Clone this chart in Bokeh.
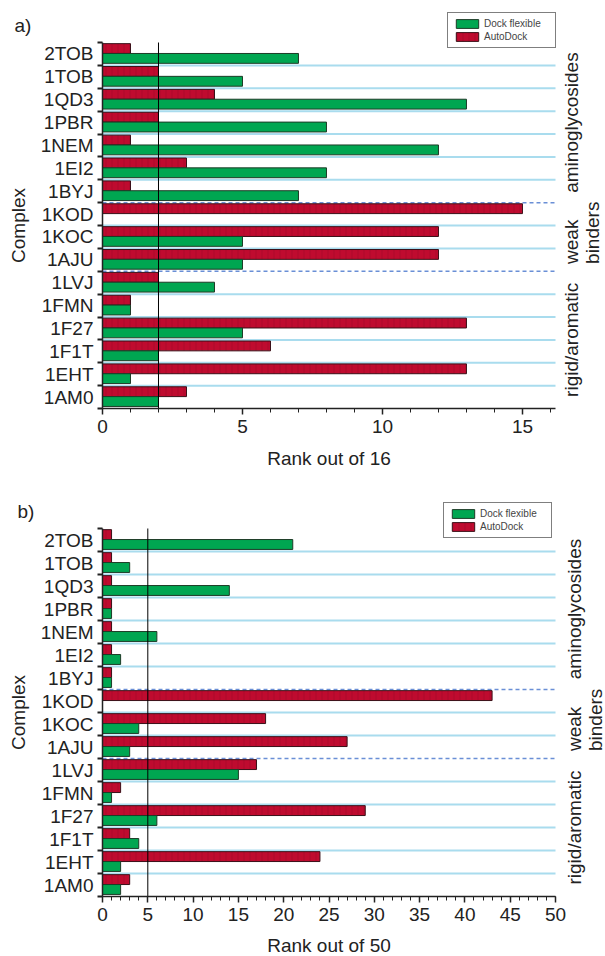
import math
from bokeh.plotting import figure
from bokeh.models import (Range1d, FixedTicker, SingleIntervalTicker, Label,
                          Legend, LegendItem)
from bokeh.layouts import column
from bokeh.embed import file_html
from bokeh.resources import INLINE

# ---------------- data ----------------
complexes = ["2TOB", "1TOB", "1QD3", "1PBR", "1NEM", "1EI2", "1BYJ",
             "1KOD", "1KOC", "1AJU",
             "1LVJ", "1FMN", "1F27", "1F1T", "1EHT", "1AM0"]
group_names = ["aminoglycosides", "weak\nbinders", "rigid/aromatic"]
group_sizes = [7, 3, 6]
series_names = ["Dock flexible", "AutoDock"]

dock_rank16 = [7, 5, 13, 8, 12, 8, 7, 0, 5, 5, 4, 1, 5, 2, 1, 2]
autodock_rank16 = [1, 2, 4, 2, 1, 3, 1, 15, 12, 12, 2, 1, 13, 6, 13, 3]
dock_rank50 = [21, 3, 14, 1, 6, 2, 1, 0, 4, 3, 15, 1, 6, 4, 2, 2]
autodock_rank50 = [1, 1, 1, 1, 1, 1, 1, 43, 18, 27, 17, 2, 29, 3, 24, 3]

x_labels = ["Rank out of 16", "Rank out of 50"]
x_max = [16.18, 50]
thresholds = [2, 5]
panel_tags = ["a)", "b)"]
y_title = "Complex"

GREEN = "#00a651"
RED = "#bf0b2f"
FONT = "Liberation Sans"
TXT = "#222222"
FIG_W = 605


def make_panel(tag, dock, auto, xmax, xlabel, thr, fig_h, plot_top, plot_bottom,
               legend_ll, tag_xy, group_dx, xlabel_standoff):
    n = len(complexes)
    plot_left, plot_right = 102, 555
    sx = (plot_right - plot_left) / xmax
    sy = (plot_bottom - plot_top) / n
    x0 = -plot_left / sx
    x1 = xmax + (FIG_W - plot_right) / sx
    y0 = -(fig_h - plot_bottom) / sy
    y1 = n + plot_top / sy

    p = figure(width=FIG_W, height=fig_h, x_range=Range1d(x0, x1),
               y_range=Range1d(y0, y1), output_backend="svg",
               toolbar_location=None, min_border_left=0, min_border_right=0,
               min_border_top=0, min_border_bottom=0)
    p.outline_line_color = None
    p.background_fill_color = "white"
    p.border_fill_color = "white"
    p.xgrid.visible = False
    p.ygrid.visible = False

    tops = [n - i for i in range(n)]
    centers = [t - 0.5 for t in tops]

    # row separators
    bounds = []
    acc = 0
    for s in group_sizes[:-1]:
        acc += s
        bounds.append(n - acc)
    solid = [k for k in range(1, n) if k not in bounds]
    p.segment(x0=[0] * len(solid), x1=[xmax] * len(solid), y0=solid, y1=solid,
              line_color="#a9dcee", line_width=2)
    p.segment(x0=[0] * len(bounds), x1=[xmax] * len(bounds), y0=bounds, y1=bounds,
              line_color="#6a8fd6", line_width=1.5, line_dash="4 3")

    # bars
    r = p.hbar(y=[c + 0.235 for c in centers], height=0.43, left=0, right=auto,
               fill_color=RED, line_color="#3a1018", line_width=1,
               hatch_pattern="vertical_line", hatch_color="#8c0722",
               hatch_alpha=0.35, hatch_scale=6, hatch_weight=1)
    g = p.hbar(y=[c - 0.195 for c in centers], height=0.43, left=0, right=dock,
               fill_color=GREEN, line_color="#1d3b27", line_width=1)

    # threshold line
    p.segment(x0=[thr], x1=[thr], y0=[0], y1=[n], line_color="black", line_width=1)

    # x axis
    xa = p.xaxis[0]
    xa.fixed_location = 0
    xa.bounds = (0, xmax)
    xa.ticker = SingleIntervalTicker(interval=5, num_minor_ticks=5)
    xa.axis_label = xlabel
    xa.axis_label_text_font = FONT
    xa.axis_label_text_font_size = "19px"
    xa.axis_label_text_font_style = "normal"
    xa.axis_label_standoff = xlabel_standoff
    xa.major_label_text_font = FONT
    xa.major_label_text_font_size = "19px"
    xa.major_label_standoff = 5
    xa.major_tick_out = 6
    xa.major_tick_in = 0
    xa.minor_tick_out = 4
    xa.minor_tick_in = 0
    xa.major_tick_line_width = 1.5
    xa.axis_line_width = 1.5
    xa.axis_line_color = TXT
    xa.major_tick_line_color = TXT
    xa.minor_tick_line_color = TXT
    xa.major_label_text_color = TXT
    xa.axis_label_text_color = TXT

    # y axis
    ya = p.yaxis[0]
    ya.fixed_location = 0
    ya.bounds = (0, n)
    ya.ticker = FixedTicker(ticks=centers, minor_ticks=list(range(0, n + 1)))
    ya.major_label_overrides = {c: name for c, name in zip(centers, complexes)}
    ya.axis_label = y_title
    ya.axis_label_text_font = FONT
    ya.axis_label_text_font_size = "19px"
    ya.axis_label_text_font_style = "normal"
    ya.axis_label_standoff = 9
    ya.major_label_text_font = FONT
    ya.major_label_text_font_size = "19px"
    ya.major_label_standoff = 4
    ya.major_tick_out = 0
    ya.major_tick_in = 0
    ya.minor_tick_out = 5
    ya.minor_tick_in = 0
    ya.minor_tick_line_width = 2
    ya.axis_line_width = 1.5
    ya.axis_line_color = TXT
    ya.minor_tick_line_color = TXT
    ya.major_label_text_color = TXT
    ya.axis_label_text_color = TXT

    # legend
    leg = Legend(items=[LegendItem(label=series_names[0], renderers=[g]),
                        LegendItem(label=series_names[1], renderers=[r])],
                 location=legend_ll, orientation="vertical", padding=5,
                 spacing=2, margin=0, glyph_width=28, glyph_height=11,
                 label_height=11, label_width=66, label_standoff=3,
                 label_text_font=FONT, label_text_font_size="10px",
                 border_line_color="black", border_line_width=1,
                 background_fill_color="white", background_fill_alpha=1)
    p.add_layout(leg)

    # panel tag
    tx, ty = tag_xy
    p.add_layout(Label(x=(tx - plot_left) / sx, y=n + (plot_top - ty) / sy,
                       text=tag, text_align="left", text_baseline="top",
                       text_font=FONT, text_font_size="19px", text_color=TXT))

    # group labels on the right
    acc = 0
    for name, s in zip(group_names, group_sizes):
        gtop = n - acc
        gbot = n - acc - s
        acc += s
        multi = "\n" in name
        p.add_layout(Label(x=xmax, y=(gtop + gbot) / 2, x_offset=group_dx,
                           y_offset=-27 if multi else 0, text=name,
                           angle=math.pi / 2,
                           text_align="left" if multi else "center",
                           text_baseline="top", text_font=FONT,
                           text_font_size="19px", text_color=TXT,
                           text_line_height=1.0))
    return p


pa = make_panel(panel_tags[0], dock_rank16, autodock_rank16, x_max[0],
                x_labels[0], thresholds[0], 480, 42, 408, (447, 432), (14, 14),
                5, 12)
pb = make_panel(panel_tags[1], dock_rank50, autodock_rank50, x_max[1],
                x_labels[1], thresholds[1], 476, 48, 416, (443, 418), (17, 20),
                8, 11)

layout = column(pa, pb, spacing=0)
open("out.html", "w").write(file_html(layout, INLINE))
